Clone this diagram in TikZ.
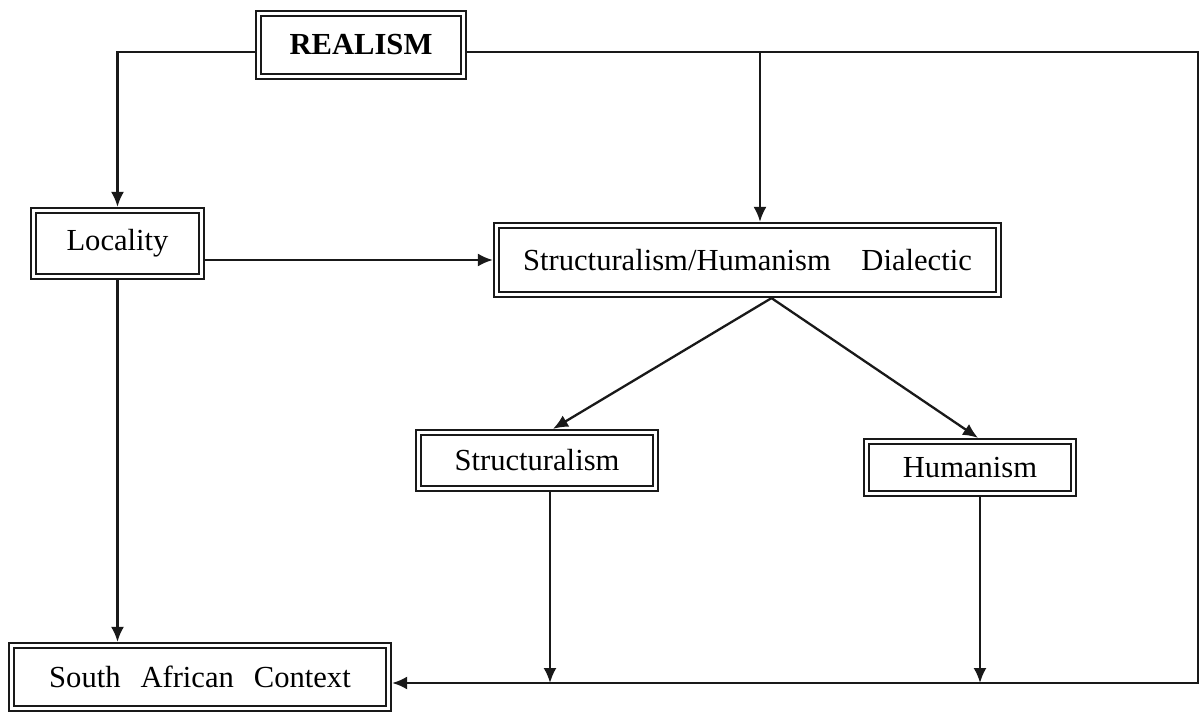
\documentclass[tikz,border=0pt]{standalone}
\usepackage{fontspec}
\setmainfont{Liberation Serif}
\usetikzlibrary{arrows.meta,calc}
\begin{document}
\begin{tikzpicture}[x=1pt,y=-1pt,
  box/.style={draw=black!90, line width=2.3pt, double=white, double distance=2.6pt,
    outer sep=3.6pt, inner sep=0pt, font=\fontsize{30.6}{36}\selectfont, text=black},
  arr/.style={draw=black!90, line width=2.3pt, -{Latex[length=15pt,width=13pt]}}]
\useasboundingbox (0,0) rectangle (1203,714);
\fill[white] (0,0) rectangle (1203,714);
\node[box, minimum width=205pt, minimum height=63pt, font=\fontsize{30.6}{36}\selectfont\bfseries] (realism) at (361,45) {REALISM};
\node[box, minimum width=168pt, minimum height=66pt] (loc) at (117.5,243.5) {Locality};
\node[box, minimum width=502pt, minimum height=69pt] (sh) at (747.5,260) {Structuralism/Humanism\hspace{1em}Dialectic};
\node[box, minimum width=237pt, minimum height=56pt] (str) at (537,460.5) {Structuralism};
\node[box, minimum width=207pt, minimum height=52pt] (hum) at (970,467.5) {Humanism};
\node[box, minimum width=377pt, minimum height=63pt] (sac) at (200,677) {South\hspace{0.65em}African\hspace{0.65em}Context};
\coordinate (br) at (1198,683);
\coordinate (j1) at (760,52);
\path ($(realism.west)+(0,7)$) coordinate (rw);
\path ($(realism.east)+(0,7)$) coordinate (re);
\path ($(sh.south)+(24,0)$) coordinate (shs);
\path ($(str.south)+(13,0)$) coordinate (s1);
\path ($(hum.south)+(10,0)$) coordinate (h1);
\draw[arr] (rw) -| (loc.north);
\draw[arr] (re) -| (br) -- (sac.east |- br);
\draw[arr] (j1) -- (j1 |- sh.north);
\draw[arr] (loc.east |- sh.west) -- (sh.west);
\draw[arr] (shs) -- ($(str.north)+(16,0)$);
\draw[arr] (shs) -- ($(hum.north)+(8,0)$);
\draw[arr] (s1) -- (s1 |- br);
\draw[arr] (h1) -- (h1 |- br);
\draw[arr] (loc.south) -- (loc.south |- sac.north);
\end{tikzpicture}
\end{document}
